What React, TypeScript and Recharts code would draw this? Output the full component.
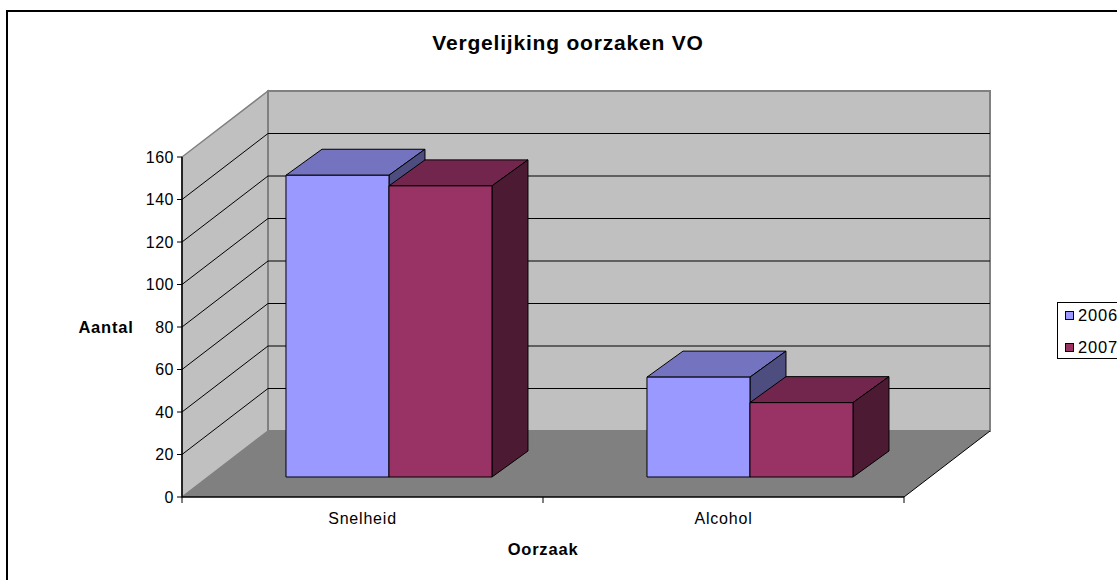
import React from 'react';
import * as RechartsAll from 'recharts';
import { BarChart, Bar, XAxis, YAxis, Customized } from 'recharts';

// chart data
const CATEGORIES = ['Snelheid', 'Alcohol'];
const SERIES = ['2006', '2007'];
const VALUES_2006 = [142, 47];
const VALUES_2007 = [137, 35];
const Y_TICKS = [0, 20, 40, 60, 80, 100, 120, 140, 160];

const FRONT_COLORS = ['#9999FF', '#993366'];
const TOP_COLORS = ['#7373BF', '#73264D'];
const SIDE_COLORS = ['#4D4D80', '#4D1A33'];

const data = CATEGORIES.map((name, i) => ({
  name,
  v2006: VALUES_2006[i],
  v2007: VALUES_2007[i],
}));

// layout
const WIDTH = 1117;
const HEIGHT = 580;
const Y_AXIS_W = 182;
const X_AXIS_H = 83;
const MARGIN = { top: 157, right: 213, bottom: 0, left: 0 };
const PLOT_W = WIDTH - MARGIN.left - MARGIN.right - Y_AXIS_W;
const PLOT_H = HEIGHT - MARGIN.top - MARGIN.bottom - X_AXIS_H;
const Y_MAX = 160;

// oblique depth of the walls and of the boxes
const DX = 86;
const DY = 66;
const OX = 26;
const OY = 20;
const BDX = 36;
const BDY = 26;

const FONT = '"Liberation Sans", Arial, sans-serif';

const usePlotAreaSafe: () => any = (RechartsAll as any).usePlotArea ?? (() => null);

function Walls() {
  const pa = usePlotAreaSafe();
  const L = pa?.x ?? MARGIN.left + Y_AXIS_W;
  const T = pa?.y ?? MARGIN.top;
  const W = pa?.width ?? PLOT_W;
  const H = pa?.height ?? PLOT_H;
  const R = L + W;
  const B = T + H;
  const yOf = (v: number) => B - (v / Y_MAX) * H;

  return (
    <g>
      <polygon
        points={`${L},${B} ${L + DX},${B - DY} ${L + DX},${T - DY} ${L},${T}`}
        fill="#C0C0C0"
        stroke="#808080"
        strokeWidth={1.5}
      />
      <rect x={L + DX} y={T - DY} width={W} height={H} fill="#C0C0C0" stroke="#808080" strokeWidth={2} />
      <polygon
        points={`${L},${B} ${R},${B} ${R + DX},${B - DY} ${L + DX},${B - DY}`}
        fill="#808080"
      />
      <line x1={R} y1={B} x2={R + DX} y2={B - DY} stroke="#000" strokeWidth={1} />
      {Y_TICKS.filter((v) => v > 0 && v < Y_MAX).map((v) => (
        <g key={v} stroke="#000" strokeWidth={1}>
          <line x1={L} y1={yOf(v)} x2={L + DX} y2={yOf(v) - DY} />
          <line x1={L + DX} y1={yOf(v) - DY} x2={R + DX} y2={yOf(v) - DY} />
        </g>
      ))}
      <text
        x={568}
        y={50}
        textAnchor="middle"
        fontFamily={FONT}
        fontWeight="bold"
        fontSize={21}
        letterSpacing={0.8}
        fill="#000"
      >
        Vergelijking oorzaken VO
      </text>
    </g>
  );
}

function makeBox(idx: number) {
  return (p: any) => {
    const { x, y, width: w, height: h } = p;
    if (w == null || h == null) return <g />;
    const fx = x + OX;
    const fy = y - OY;
    return (
      <g stroke="#000" strokeWidth={1} strokeLinejoin="round">
        <polygon
          points={`${fx},${fy} ${fx + BDX},${fy - BDY} ${fx + w + BDX},${fy - BDY} ${fx + w},${fy}`}
          fill={TOP_COLORS[idx]}
        />
        <polygon
          points={`${fx + w},${fy} ${fx + w + BDX},${fy - BDY} ${fx + w + BDX},${fy + h - BDY} ${fx + w},${fy + h}`}
          fill={SIDE_COLORS[idx]}
        />
        <rect x={fx} y={fy} width={w} height={h} fill={FRONT_COLORS[idx]} />
      </g>
    );
  };
}

const XTick = (props: any) => {
  const { x, y, payload, index } = props;
  const half = PLOT_W / CATEGORIES.length / 2;
  return (
    <g>
      <line x1={x - half} y1={y - 10} x2={x - half} y2={y - 4} stroke="#000" />
      {index === CATEGORIES.length - 1 && (
        <line x1={x + half} y1={y - 10} x2={x + half} y2={y - 4} stroke="#000" />
      )}
      <text x={x} y={y} dy={17} textAnchor="middle" fontFamily={FONT} fontSize={16} letterSpacing={0.8} fill="#000">
        {payload.value}
      </text>
    </g>
  );
};

export default function App() {
  return (
    <div
      style={{
        position: 'absolute',
        left: 0,
        top: 0,
        width: WIDTH,
        height: HEIGHT,
        overflow: 'hidden',
        background: '#fff',
        fontFamily: FONT,
      }}
    >
      <div
        style={{
          position: 'absolute',
          left: 6,
          top: 10,
          width: 1200,
          height: 700,
          border: '2px solid #000',
        }}
      />
      <div style={{ position: 'absolute', left: 0, top: 0 }}>
        <BarChart width={WIDTH} height={HEIGHT} data={data} margin={MARGIN} barCategoryGap="21.6%" barGap={0}>
          <Customized component={<Walls />} />
          <XAxis
            dataKey="name"
            height={X_AXIS_H}
            tickSize={6}
            tickMargin={4}
            tickLine={false}
            axisLine={{ stroke: '#000', strokeWidth: 1.5 }}
            tick={<XTick />}
            interval={0}
            label={{
              content: (lp: any) => {
                const vb = lp.viewBox || {};
                return (
                  <text
                    x={vb.x + vb.width / 2}
                    y={555}
                    textAnchor="middle"
                    fontFamily={FONT}
                    fontWeight="bold"
                    fontSize={16.5}
                    letterSpacing={0.8}
                    fill="#000"
                  >
                    Oorzaak
                  </text>
                );
              },
            }}
          />
          <YAxis
            width={Y_AXIS_W}
            domain={[0, Y_MAX]}
            ticks={Y_TICKS}
            interval={0}
            tickSize={5}
            tickMargin={3}
            axisLine={{ stroke: '#000', strokeWidth: 1.5 }}
            tickLine={{ stroke: '#000' }}
            tick={{ fill: '#000', fontSize: 16, fontFamily: FONT, letterSpacing: 0.5 }}
            label={{
              content: (lp: any) => {
                const vb = lp.viewBox || {};
                return (
                  <text
                    x={106}
                    y={vb.y + vb.height / 2 + 6}
                    textAnchor="middle"
                    fontFamily={FONT}
                    fontWeight="bold"
                    fontSize={16.5}
                    letterSpacing={0.8}
                    fill="#000"
                  >
                    Aantal
                  </text>
                );
              },
            }}
          />
          <Bar dataKey="v2006" name={SERIES[0]} fill={FRONT_COLORS[0]} shape={makeBox(0)} isAnimationActive={false} />
          <Bar dataKey="v2007" name={SERIES[1]} fill={FRONT_COLORS[1]} shape={makeBox(1)} isAnimationActive={false} />
        </BarChart>
      </div>
      <div
        style={{
          position: 'absolute',
          left: 1057,
          top: 302,
          width: 90,
          height: 57,
          border: '1px solid #000',
          boxSizing: 'border-box',
          background: '#fff',
        }}
      >
        {SERIES.map((s, i) => (
          <div
            key={s}
            style={{
              position: 'absolute',
              left: 7,
              top: 3 + i * 32,
              height: 18,
              lineHeight: '18px',
              fontSize: 16.5,
              letterSpacing: 0.8,
              whiteSpace: 'nowrap',
              color: '#000',
            }}
          >
            <span
              style={{
                display: 'inline-block',
                width: 7,
                height: 7,
                border: '1px solid #000',
                background: FRONT_COLORS[i],
                marginRight: 4,
                verticalAlign: 'middle',
                position: 'relative',
                top: -1,
              }}
            />
            {s}
          </div>
        ))}
      </div>
    </div>
  );
}
